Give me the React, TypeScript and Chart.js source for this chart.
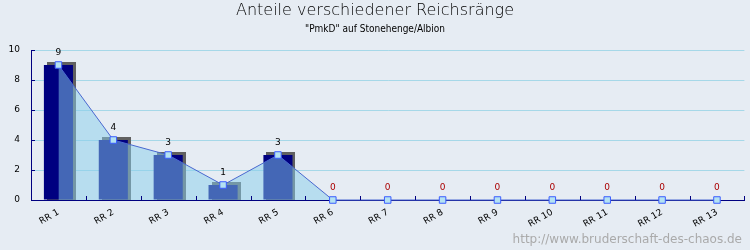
import React, { useEffect, useRef } from "react";
import { Chart, registerables } from "chart.js";

Chart.register(...registerables);

const titleText = "Anteile verschiedener Reichsränge";
const subtitleText = "\"PmkD\" auf Stonehenge/Albion";
const footerText = "http://www.bruderschaft-des-chaos.de";
const categories = ["RR 1", "RR 2", "RR 3", "RR 4", "RR 5", "RR 6", "RR 7", "RR 8", "RR 9", "RR 10", "RR 11", "RR 12", "RR 13"];
const counts = [9, 4, 3, 1, 3, 0, 0, 0, 0, 0, 0, 0, 0];
const yTickValues = [0, 2, 4, 6, 8, 10];

const BG = "#e6ecf3";
const NAVY = "#000080";

const decorPlugin = {
  id: "decor",
  beforeDraw(chart: any) {
    const ctx = chart.ctx;
    ctx.save();
    ctx.fillStyle = BG;
    ctx.fillRect(0, 0, chart.width, chart.height);
    ctx.restore();
  },
  beforeDatasetsDraw(chart: any) {
    const ctx = chart.ctx;
    const meta = chart.getDatasetMeta(0);
    ctx.save();
    ctx.fillStyle = "#606060";
    meta.data.forEach((bar: any, i: number) => {
      if (!counts[i]) return;
      const w = bar.width;
      ctx.fillRect(Math.round(bar.x - w / 2 + 3), Math.round(bar.y - 3), Math.round(w), Math.round(bar.base - bar.y + 3));
    });
    ctx.restore();
  },
  afterDatasetsDraw(chart: any) {
    const ctx = chart.ctx;
    const xs = chart.scales.x;
    const ys = chart.scales.y;
    ctx.save();
    ctx.strokeStyle = NAVY;
    ctx.lineWidth = 1;
    ctx.beginPath();
    for (let i = 0; i <= categories.length; i++) {
      const px = Math.round(xs.getPixelForValue(i - 0.5)) + 0.5;
      ctx.moveTo(px, ys.bottom);
      ctx.lineTo(px, ys.bottom - 4);
    }
    yTickValues.forEach((v) => {
      const py = Math.round(ys.getPixelForValue(v)) + 0.5;
      ctx.moveTo(xs.left, py);
      ctx.lineTo(xs.left + 4, py);
    });
    ctx.stroke();
    const meta = chart.getDatasetMeta(1);
    ctx.font = "9px 'DejaVu Sans'";
    ctx.textAlign = "center";
    ctx.textBaseline = "middle";
    meta.data.forEach((pt: any, i: number) => {
      ctx.fillStyle = counts[i] === 0 ? "#aa0000" : "#000000";
      ctx.fillText(String(counts[i]), pt.x, pt.y - 12);
    });
    ctx.restore();
  },
  afterDraw(chart: any) {
    const ctx = chart.ctx;
    ctx.save();
    ctx.textAlign = "center";
    ctx.textBaseline = "middle";
    ctx.fillStyle = "#000000";
    ctx.font = "200 16px 'DejaVu Sans'";
    ctx.fillText(titleText, 375, 11);
    ctx.font = "10px 'DejaVu Sans Condensed'";
    ctx.fillStyle = "#000000";
    ctx.fillText(subtitleText, 375, 29);
    ctx.textAlign = "right";
    ctx.textBaseline = "alphabetic";
    ctx.fillStyle = "#aaaaaa";
    ctx.font = "12px 'DejaVu Sans'";
    ctx.fillText(footerText, 742, 243);
    ctx.restore();
  },
};

export default function App() {
  const ref = useRef<HTMLCanvasElement | null>(null);
  useEffect(() => {
    document.body.style.margin = "0";
    document.body.style.background = BG;
    const canvas = ref.current!;
    const chart = new Chart(canvas, {
      type: "bar",
      data: {
        labels: categories,
        datasets: [
          {
            type: "bar",
            data: counts,
            backgroundColor: NAVY,
            borderWidth: 0,
            categoryPercentage: 1,
            barPercentage: 0.53,
            order: 2,
          },
          {
            type: "line",
            data: counts,
            borderColor: "#4a68d0",
            borderWidth: 1,
            backgroundColor: "rgba(135,206,235,0.5)",
            fill: "origin",
            tension: 0,
            clip: false,
            pointStyle: "rect",
            pointRadius: 4.6,
            pointBorderWidth: 1,
            pointBackgroundColor: "#b4e2f2",
            pointBorderColor: "#3a5cff",
            order: 1,
          } as any,
        ],
      },
      options: {
        responsive: false,
        animation: false,
        devicePixelRatio: 1,
        layout: { padding: { top: 50, right: 3, left: 0, bottom: 0 } },
        plugins: { legend: { display: false }, tooltip: { enabled: false }, title: { display: false } },
        scales: {
          x: {
            offset: true,
            grid: { display: false, drawTicks: false },
            border: { color: NAVY, width: 1 },
            ticks: {
              minRotation: 30,
              maxRotation: 30,
              padding: 7,
              color: "#000",
              font: { family: "'DejaVu Sans'", size: 9 },
            },
            afterFit: (s: any) => {
              s.height = 50;
            },
          },
          y: {
            min: 0,
            max: 10,
            grid: { color: "#a6d8e8", drawTicks: false },
            border: { color: NAVY, width: 1 },
            ticks: {
              stepSize: 2,
              padding: 11,
              color: "#000",
              font: { family: "'DejaVu Sans'", size: 9 },
            },
            afterFit: (s: any) => {
              s.width = 31;
            },
          },
        },
      },
      plugins: [decorPlugin],
    });
    return () => chart.destroy();
  }, []);
  return (
    <div style={{ width: 750, height: 250, background: BG }}>
      <canvas ref={ref} width={750} height={250} style={{ display: "block" }} />
    </div>
  );
}
